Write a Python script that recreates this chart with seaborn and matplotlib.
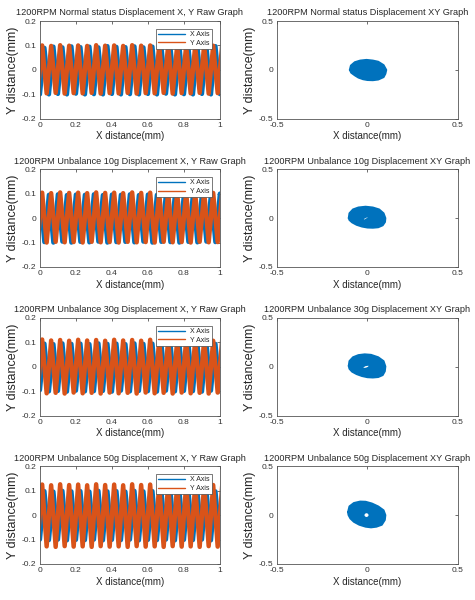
import matplotlib
matplotlib.use('Agg')
import matplotlib.pyplot as plt
import numpy as np
import pandas as pd
import seaborn as sns

sns.set_style('white')
plt.rcParams['font.family'] = ['Liberation Sans', 'DejaVu Sans']

# conditions (rows)
conditions = ['Normal status', 'Unbalance 10g', 'Unbalance 30g', 'Unbalance 50g']

# vertex times of the raw waveforms (half-period steps, 20 Hz)
t_x = [0.000, 0.025, 0.050, 0.075, 0.100, 0.125, 0.150, 0.175, 0.200, 0.225,
       0.250, 0.275, 0.300, 0.325, 0.350, 0.375, 0.400, 0.425, 0.450, 0.475,
       0.500, 0.525, 0.550, 0.575, 0.600, 0.625, 0.650, 0.675, 0.700, 0.725,
       0.750, 0.775, 0.800, 0.825, 0.850, 0.875, 0.900, 0.925, 0.950, 0.975,
       1.000]
t_y = [-0.0125, 0.0125, 0.0375, 0.0625, 0.0875, 0.1125, 0.1375, 0.1625, 0.1875, 0.2125,
       0.2375, 0.2625, 0.2875, 0.3125, 0.3375, 0.3625, 0.3875, 0.4125, 0.4375, 0.4625,
       0.4875, 0.5125, 0.5375, 0.5625, 0.5875, 0.6125, 0.6375, 0.6625, 0.6875, 0.7125,
       0.7375, 0.7625, 0.7875, 0.8125, 0.8375, 0.8625, 0.8875, 0.9125, 0.9375, 0.9625,
       0.9875, 1.0125]

# X axis displacement (mm), alternating trough / peak
x_raw = {
    'Normal status': [-0.100, 0.090, -0.100, 0.095, -0.098, 0.092, -0.100, 0.096, -0.097, 0.093,
                      -0.100, 0.095, -0.099, 0.092, -0.100, 0.097, -0.098, 0.094, -0.100, 0.093,
                      -0.099, 0.096, -0.100, 0.092, -0.098, 0.095, -0.100, 0.094, -0.097, 0.093,
                      -0.100, 0.096, -0.099, 0.092, -0.100, 0.095, -0.098, 0.094, -0.100, 0.097,
                      -0.099],
    'Unbalance 10g': [0.100, -0.098, 0.095, -0.100, 0.097, -0.096, 0.094, -0.100, 0.096, -0.097,
                      0.095, -0.099, 0.097, -0.096, 0.094, -0.100, 0.096, -0.098, 0.095, -0.097,
                      0.097, -0.099, 0.094, -0.096, 0.096, -0.100, 0.095, -0.097, 0.097, -0.098,
                      0.094, -0.100, 0.096, -0.097, 0.095, -0.099, 0.097, -0.096, 0.094, -0.098,
                      0.100],
    'Unbalance 30g': [-0.095, 0.095, -0.100, 0.093, -0.098, 0.096, -0.101, 0.094, -0.097, 0.095,
                      -0.100, 0.093, -0.099, 0.096, -0.098, 0.094, -0.101, 0.095, -0.097, 0.093,
                      -0.100, 0.096, -0.098, 0.094, -0.099, 0.095, -0.101, 0.093, -0.097, 0.096,
                      -0.100, 0.094, -0.098, 0.095, -0.099, 0.093, -0.101, 0.096, -0.097, 0.094,
                      -0.100],
    'Unbalance 50g': [-0.100, 0.098, -0.102, 0.096, -0.100, 0.099, -0.103, 0.097, -0.101, 0.098,
                      -0.102, 0.096, -0.100, 0.099, -0.103, 0.097, -0.101, 0.098, -0.102, 0.096,
                      -0.100, 0.099, -0.103, 0.097, -0.101, 0.098, -0.102, 0.096, -0.100, 0.099,
                      -0.103, 0.097, -0.101, 0.098, -0.102, 0.096, -0.100, 0.099, -0.103, 0.097,
                      -0.101],
}

# Y axis displacement (mm), alternating trough / peak
y_raw = {
    'Normal status': [-0.095, 0.100, -0.096, 0.098, -0.094, 0.101, -0.097, 0.099, -0.095, 0.100,
                      -0.096, 0.098, -0.094, 0.101, -0.097, 0.099, -0.095, 0.100, -0.096, 0.098,
                      -0.094, 0.101, -0.097, 0.099, -0.095, 0.100, -0.096, 0.098, -0.094, 0.101,
                      -0.097, 0.099, -0.095, 0.100, -0.096, 0.098, -0.094, 0.101, -0.097, 0.099,
                      -0.095, 0.100],
    'Unbalance 10g': [-0.098, 0.104, -0.100, 0.102, -0.097, 0.105, -0.099, 0.103, -0.098, 0.104,
                      -0.100, 0.102, -0.097, 0.105, -0.099, 0.103, -0.098, 0.104, -0.100, 0.102,
                      -0.097, 0.105, -0.099, 0.103, -0.098, 0.104, -0.100, 0.102, -0.097, 0.105,
                      -0.099, 0.103, -0.098, 0.104, -0.100, 0.102, -0.097, 0.105, -0.099, 0.103,
                      -0.098, 0.104],
    'Unbalance 30g': [-0.100, 0.112, -0.108, 0.108, -0.106, 0.110, -0.109, 0.107, -0.105, 0.111,
                      -0.108, 0.108, -0.106, 0.110, -0.109, 0.107, -0.105, 0.111, -0.108, 0.108,
                      -0.106, 0.110, -0.109, 0.107, -0.105, 0.111, -0.108, 0.108, -0.106, 0.110,
                      -0.109, 0.107, -0.105, 0.111, -0.108, 0.108, -0.106, 0.110, -0.109, 0.107,
                      -0.105, 0.110],
    'Unbalance 50g': [-0.110, 0.125, -0.128, 0.122, -0.130, 0.126, -0.127, 0.123, -0.129, 0.125,
                      -0.128, 0.122, -0.130, 0.126, -0.127, 0.123, -0.129, 0.125, -0.128, 0.122,
                      -0.130, 0.126, -0.127, 0.123, -0.129, 0.125, -0.128, 0.122, -0.130, 0.126,
                      -0.127, 0.123, -0.129, 0.125, -0.128, 0.122, -0.130, 0.126, -0.127, 0.123,
                      -0.129, 0.120],
}

# XY orbit outline (mm) and the gap in its middle
orbit_x = {
    'Normal status': [-0.098, -0.092, -0.070, -0.040, -0.005, 0.030, 0.060, 0.090, 0.105,
                      0.100, 0.090, 0.060, 0.030, 0.000, -0.024, -0.050, -0.070, -0.090],
    'Unbalance 10g': [-0.104, -0.100, -0.080, -0.050, -0.010, 0.030, 0.065, 0.090, 0.100,
                      0.098, 0.085, 0.060, 0.030, 0.000, -0.030, -0.060, -0.085, -0.100],
    'Unbalance 30g': [-0.104, -0.100, -0.080, -0.050, -0.015, 0.020, 0.060, 0.090, 0.100,
                      0.097, 0.085, 0.060, 0.030, 0.000, -0.030, -0.060, -0.085, -0.100],
    'Unbalance 50g': [-0.108, -0.100, -0.075, -0.040, -0.010, 0.025, 0.060, 0.090, 0.100,
                      0.097, 0.080, 0.050, 0.020, -0.010, -0.045, -0.075, -0.095, -0.105],
}
orbit_y = {
    'Normal status': [0.000, 0.045, 0.080, 0.097, 0.104, 0.097, 0.085, 0.050, 0.000,
                      -0.040, -0.075, -0.100, -0.107, -0.105, -0.097, -0.080, -0.057, -0.030],
    'Unbalance 10g': [0.000, 0.050, 0.090, 0.110, 0.118, 0.110, 0.090, 0.050, 0.000,
                      -0.040, -0.075, -0.095, -0.100, -0.098, -0.088, -0.070, -0.045, -0.020],
    'Unbalance 30g': [0.010, 0.060, 0.100, 0.122, 0.130, 0.125, 0.100, 0.060, 0.005,
                      -0.045, -0.085, -0.105, -0.110, -0.107, -0.095, -0.075, -0.050, -0.020],
    'Unbalance 50g': [0.030, 0.090, 0.125, 0.140, 0.138, 0.120, 0.090, 0.050, 0.000,
                      -0.050, -0.100, -0.120, -0.127, -0.120, -0.100, -0.070, -0.035, 0.000],
}
hole_x = {
    'Normal status': [],
    'Unbalance 10g': [-0.020, -0.008, 0.004, -0.002, -0.016],
    'Unbalance 30g': [-0.022, -0.010, 0.006, 0.004, -0.008, -0.020],
    'Unbalance 50g': [-0.017, -0.013, -0.005, 0.003, 0.007, 0.003, -0.005, -0.013],
}
hole_y = {
    'Normal status': [],
    'Unbalance 10g': [-0.010, 0.002, 0.010, 0.002, -0.014],
    'Unbalance 30g': [-0.005, 0.008, 0.012, 0.002, -0.008, -0.010],
    'Unbalance 50g': [0.000, 0.014, 0.020, 0.014, 0.000, -0.014, -0.020, -0.014],
}

blue = '#0072BD'
orange = '#D95319'

fig = plt.figure(figsize=(4.75, 6), dpi=100)

bottoms = [0.802, 0.555, 0.307, 0.060]
h = 0.163

def style_axes(ax):
    for s in ax.spines.values():
        s.set_color('#555555')
        s.set_linewidth(0.6)
    ax.tick_params(direction='in', length=2.5, width=0.5, labelsize=6,
                   top=True, right=True, colors='#333333', pad=2.5)

for i, cond in enumerate(conditions):
    # raw waveform panel
    ax = fig.add_axes([0.084, bottoms[i], 0.379, h])
    df_x = pd.DataFrame({'t': t_x, 'v': x_raw[cond]})
    df_y = pd.DataFrame({'t': t_y, 'v': y_raw[cond]})
    sns.lineplot(data=df_x, x='t', y='v', ax=ax, color=blue, lw=3.2,
                 sort=False, estimator=None, label='X Axis')
    sns.lineplot(data=df_y, x='t', y='v', ax=ax, color=orange, lw=3.2,
                 sort=False, estimator=None, label='Y Axis')
    ax.set_xlim(0, 1)
    ax.set_ylim(-0.2, 0.2)
    ax.set_xticks([0, 0.2, 0.4, 0.6, 0.8, 1])
    ax.set_xticklabels(['0', '0.2', '0.4', '0.6', '0.8', '1'])
    ax.set_yticks([-0.2, -0.1, 0, 0.1, 0.2])
    ax.set_yticklabels(['-0.2', '-0.1', '0', '0.1', '0.2'])
    ax.set_xlabel('X distance(mm)', fontsize=7, labelpad=1.5)
    ax.set_ylabel('Y distance(mm)', fontsize=9, labelpad=2)
    ax.set_title(f'1200RPM {cond} Displacement X, Y Raw Graph', fontsize=6.6, pad=4)
    style_axes(ax)
    leg = ax.legend(loc='upper right', fontsize=5, frameon=True, fancybox=False,
                    borderpad=0.35, handlelength=3.8, labelspacing=0.25,
                    borderaxespad=1.1, framealpha=1)
    leg.get_frame().set_edgecolor('#444444')
    leg.get_frame().set_linewidth(0.5)
    for line in leg.get_lines():
        line.set_linewidth(1)

    # XY orbit panel
    ax2 = fig.add_axes([0.583, bottoms[i], 0.381, h])
    ox = orbit_x[cond] + orbit_x[cond][:1]
    oy = orbit_y[cond] + orbit_y[cond][:1]
    sns.lineplot(x=ox, y=oy, ax=ax2, color=blue, lw=1.2, sort=False, estimator=None)
    ax2.fill(ox, oy, color=blue, lw=0)
    if hole_x[cond]:
        ax2.fill(hole_x[cond], hole_y[cond], color='white', lw=0)
    ax2.set_xlim(-0.5, 0.5)
    ax2.set_ylim(-0.5, 0.5)
    ax2.set_xticks([-0.5, 0, 0.5])
    ax2.set_xticklabels(['-0.5', '0', '0.5'])
    ax2.set_yticks([-0.5, 0, 0.5])
    ax2.set_yticklabels(['-0.5', '0', '0.5'])
    ax2.set_xlabel('X distance(mm)', fontsize=7, labelpad=1.5)
    ax2.set_ylabel('Y distance(mm)', fontsize=9, labelpad=2)
    ax2.set_title(f'1200RPM {cond} Displacement XY Graph', fontsize=6.6, pad=4)
    style_axes(ax2)

fig.savefig('out.png', dpi=100)
